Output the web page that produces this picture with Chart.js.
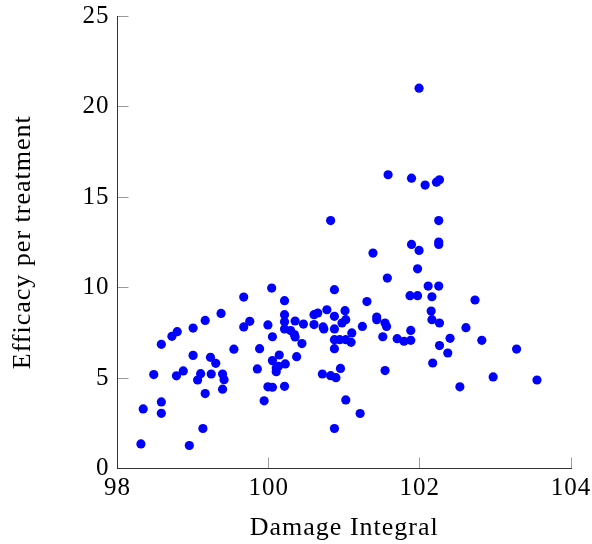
<!DOCTYPE html>
<html>
<head>
<meta charset="utf-8">
<script src="https://cdn.jsdelivr.net/npm/chart.js@4.4.1/dist/chart.umd.min.js"></script>
<style>
  html, body { margin: 0; padding: 0; background: #ffffff; }
  #wrap { width: 592px; height: 544px; }
</style>
</head>
<body>
<div id="wrap"><canvas id="chart" width="592" height="544"></canvas></div>
<script>
// Damage integral (x) against efficacy per treatment (y), one entry per sample
const damageIntegral = [
  98.31, 98.34, 98.58, 98.58, 98.48, 98.58, 98.72, 98.79, 99.00, 99.16,
  99.37, 99.67, 98.78, 98.87, 99.00, 99.10, 99.06, 99.16, 99.13, 98.95,
  99.23, 99.30, 99.24, 99.39, 99.41, 99.39, 99.54, 99.67, 99.75, 99.88,
  99.85, 99.94, 99.99, 100.04, 99.99, 100.05, 100.21, 100.21, 100.21, 100.21,
  100.35, 100.46, 100.21, 100.29, 100.34, 100.35, 100.05, 100.44, 100.37, 100.14,
  100.05, 100.22, 100.10, 100.13, 100.10, 100.60, 100.65, 100.60, 100.72, 100.73,
  100.77, 100.87, 100.87, 100.87, 100.97, 101.01, 101.02, 101.10, 100.87, 100.94,
  101.02, 101.09, 100.87, 100.71, 100.82, 100.89, 100.95, 101.02, 101.21, 100.87,
  101.24, 101.30, 101.43, 101.43, 101.54, 101.56, 101.51, 101.57, 101.54, 101.70,
  101.79, 101.88, 101.88, 101.87, 101.97, 101.97, 101.99, 101.58, 101.89, 102.07,
  102.22, 102.26, 100.82, 102.25, 101.89, 101.99, 102.25, 102.25, 101.38, 102.11,
  102.25, 102.16, 102.73, 102.15, 102.16, 102.26, 102.61, 102.40, 102.82, 102.26,
  102.37, 103.28, 102.17, 102.97, 103.55, 102.53
];
const efficacy = [
  1.36, 3.29, 3.68, 3.05, 5.19, 6.86, 7.30, 7.56, 7.76, 8.18,
  8.57, 9.47, 5.12, 5.39, 6.25, 5.24, 4.89, 4.14, 2.21, 1.27,
  6.14, 5.81, 5.22, 5.22, 4.91, 4.38, 6.59, 7.82, 8.13, 6.62,
  5.50, 3.74, 7.93, 9.97, 4.51, 4.49, 4.54, 9.27, 8.50, 8.11,
  8.15, 7.98, 7.71, 7.62, 7.40, 7.27, 7.28, 6.90, 6.18, 6.27,
  5.96, 5.78, 5.55, 5.65, 5.35, 8.50, 8.59, 7.95, 7.82, 7.71,
  8.77, 9.88, 8.41, 7.71, 8.04, 8.72, 8.22, 7.49, 7.12, 7.12,
  7.12, 6.97, 6.62, 5.22, 5.13, 5.02, 5.53, 3.79, 3.04, 2.21,
  7.85, 9.22, 8.37, 8.22, 8.04, 7.85, 7.28, 10.52, 5.41, 7.17,
  7.03, 7.08, 7.63, 9.55, 9.55, 11.03, 21.01, 16.23, 16.04, 15.66,
  15.82, 15.95, 13.70, 13.70, 12.38, 12.05, 12.51, 12.38, 11.90, 10.08,
  10.08, 9.49, 9.31, 8.70, 8.22, 8.04, 7.78, 7.19, 7.08, 6.79,
  6.38, 6.60, 5.83, 5.06, 4.89, 4.51
];

// Axis ranges and tick positions
const xTicks = [98, 100, 102, 104];
const yTicks = [0, 5, 10, 15, 20, 25];

const points = damageIntegral.map((x, i) => ({ x: x, y: efficacy[i] }));

const serif = "'Liberation Serif', 'DejaVu Serif', serif";

// Slightly spaced-out serif lettering for all axis text
const letterSpacingPlugin = {
  id: 'letterSpacing',
  beforeInit(chart) { chart.ctx.letterSpacing = '1px'; },
  beforeDraw(chart) { chart.ctx.letterSpacing = '1px'; }
};

// Fixed axis box sizes; edge labels may overhang the plot frame freely
function fixBox(size, dim) {
  return function (scale) {
    scale[dim] = size;
    scale.paddingTop = 0;
    scale.paddingBottom = 0;
    scale.paddingLeft = 0;
    scale.paddingRight = 0;
  };
}

const tickLen = -11; // tick marks point into the plot area

new Chart(document.getElementById('chart'), {
  type: 'scatter',
  data: {
    datasets: [{
      data: points,
      backgroundColor: '#0000ff',
      borderWidth: 0,
      pointRadius: 4.6,
      pointHoverRadius: 4.6
    }]
  },
  options: {
    responsive: false,
    animation: false,
    layout: {
      padding: { top: 16, right: 21, left: 0, bottom: 0 }
    },
    plugins: {
      legend: { display: false },
      tooltip: { enabled: false }
    },
    scales: {
      x: {
        type: 'linear',
        min: 98,
        max: 104,
        afterBuildTicks(scale) { scale.ticks = xTicks.map(v => ({ value: v })); },
        afterFit: fixBox(75.5, 'height'),
        ticks: {
          color: '#000000',
          font: { family: serif, size: 25 },
          padding: 16,
          maxRotation: 0
        },
        grid: {
          drawOnChartArea: false,
          drawTicks: true,
          tickLength: tickLen,
          color: '#9a9a9a',
          lineWidth: 1
        },
        border: { display: true, color: '#333333', width: 1 },
        title: {
          display: true,
          text: 'Damage Integral',
          color: '#000000',
          font: { family: serif, size: 26 },
          padding: { top: 0, bottom: 0 }
        }
      },
      y: {
        type: 'linear',
        min: 0,
        max: 25,
        afterBuildTicks(scale) { scale.ticks = yTicks.map(v => ({ value: v })); },
        afterFit: fixBox(117.5, 'width'),
        ticks: {
          color: '#000000',
          font: { family: serif, size: 25 },
          padding: 19
        },
        grid: {
          drawOnChartArea: false,
          drawTicks: true,
          tickLength: tickLen,
          color: '#9a9a9a',
          lineWidth: 1
        },
        border: { display: true, color: '#333333', width: 1 },
        title: {
          display: true,
          text: 'Efficacy per treatment',
          color: '#000000',
          font: { family: serif, size: 26 },
          padding: { top: 8, bottom: 0 }
        }
      }
    }
  },
  plugins: [letterSpacingPlugin]
});
</script>
</body>
</html>
